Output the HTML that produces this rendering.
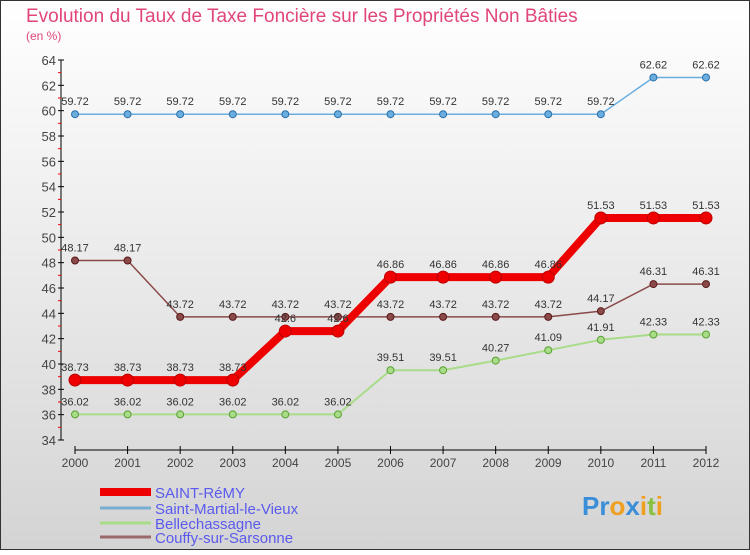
<!DOCTYPE html>
<html><head><meta charset="utf-8"><style>
body{margin:0;}
svg text{font-family:"Liberation Sans",sans-serif;}
</style></head><body>
<svg id="c" width="750" height="550" xmlns="http://www.w3.org/2000/svg">
<defs><linearGradient id="bg" x1="0" y1="0" x2="0" y2="1"><stop offset="0" stop-color="#ffffff"/><stop offset="1" stop-color="#d4d4d4"/></linearGradient></defs>
<rect x="0.5" y="0.5" width="749" height="549" fill="url(#bg)" stroke="#333" stroke-width="1"/>
<text x="26" y="22" font-size="19" fill="#e0457b">Evolution du Taux de Taxe Foncière sur les Propriétés Non Bâties</text>
<text x="26" y="40" font-size="12" fill="#e0457b">(en %)</text>
<g id="axes"></g>
<g id="series"></g>
<g id="legend"></g>
<g>
<text x="582" y="515" font-size="26" font-weight="bold" fill="#3a8fd8">Pr<tspan fill="#f0a020">o</tspan><tspan fill="#3a8fd8">x</tspan><tspan fill="#f0a020">i</tspan><tspan fill="#88c040">t</tspan><tspan fill="#f0a020">i</tspan></text>
</g>
</svg>
<script>
const years=[2000,2001,2002,2003,2004,2005,2006,2007,2008,2009,2010,2011,2012];
const yTicks=[34,36,38,40,42,44,46,48,50,52,54,56,58,60,62,64];
const saintRemy=[38.73,38.73,38.73,38.73,42.6,42.6,46.86,46.86,46.86,46.86,51.53,51.53,51.53];
const saintMartial=[59.72,59.72,59.72,59.72,59.72,59.72,59.72,59.72,59.72,59.72,59.72,62.62,62.62];
const bellechassagne=[36.02,36.02,36.02,36.02,36.02,36.02,39.51,39.51,40.27,41.09,41.91,42.33,42.33];
const couffy=[48.17,48.17,43.72,43.72,43.72,43.72,43.72,43.72,43.72,43.72,44.17,46.31,46.31];
const seriesNames=["SAINT-RéMY","Saint-Martial-le-Vieux","Bellechassagne","Couffy-sur-Sarsonne"];
const NS="http://www.w3.org/2000/svg";
const x=i=>75+i*(706-75)/(years.length-1);
const y=v=>440-(v-34)*(380/30);
function mk(tag,attrs,parent){const e=document.createElementNS(NS,tag);for(const k in attrs)e.setAttribute(k,attrs[k]);parent.appendChild(e);return e;}
const axes=document.getElementById('axes');
let a=mk('line',{x1:61,y1:60,x2:61,y2:440,stroke:'#000'},axes);


yTicks.forEach(t=>{
 mk('line',{x1:58,y1:y(t),x2:64,y2:y(t),stroke:'#000'},axes);
 if(t<64) mk('line',{x1:58,y1:y(t+1),x2:61,y2:y(t+1),stroke:'#e00'},axes);
 const tx=mk('text',{x:56,y:y(t)+5,'text-anchor':'end','font-size':13,fill:'#444'},axes);
 tx.textContent=t;
 
 
});
a=mk('line',{x1:75,y1:450,x2:706,y2:450,stroke:'#000'},axes);


years.forEach((yr,i)=>{
 mk('line',{x1:x(i),y1:446,x2:x(i),y2:454,stroke:'#000'},axes);
 const tx=mk('text',{x:x(i),y:467,'text-anchor':'middle','font-size':12,fill:'#444'},axes);
 tx.textContent=yr;
 
 
});
const sg=document.getElementById('series');
function draw(vals,color,dark,w,r,name,labels){
 const g=mk('g',{},sg);
 
 
 mk('polyline',{points:vals.map((v,i)=>x(i)+','+y(v)).join(' '),fill:'none',stroke:color,'stroke-width':w,'stroke-linejoin':'round'},g);
 vals.forEach((v,i)=>{
  const c=mk('circle',{cx:x(i),cy:y(v),r:r,fill:color,stroke:dark,'stroke-width':1},g);
  
  
  if(labels){const t=mk('text',{x:x(i),y:y(v)-9,'text-anchor':'middle','font-size':11,fill:'#333'},g);t.textContent=String(v).replace('.','');t.textContent=v;
  
  }
 });
}
draw(saintMartial,'#6aaee0','#2a6fa8',1.5,3.5,'saint-martial-series',true);
draw(bellechassagne,'#a8dc88','#5aa030',2,3.5,'bellechassagne-series',true);
draw(couffy,'#8a4a4a','#5a1a1a',1.5,3.5,'couffy-series',true);
draw(saintRemy,'#ee0000','#bb0000',8,6,'saint-remy-series',true);
const lg=document.getElementById('legend');
const lc=['#ee0000','#7aaed0','#a8dc88','#9a6a6a'],lw=[8,3,3,3],ly=[492,508,523,537];
seriesNames.forEach((n,i)=>{
 const g=mk('g',{},lg);
 
 
 mk('line',{x1:100,y1:ly[i],x2:151,y2:ly[i],stroke:lc[i],'stroke-width':lw[i]},g);
 const t=mk('text',{x:155,y:ly[i]+6,'font-size':15,fill:'#5a5aee'},g);t.textContent=n;
});
</script>
</body></html>
